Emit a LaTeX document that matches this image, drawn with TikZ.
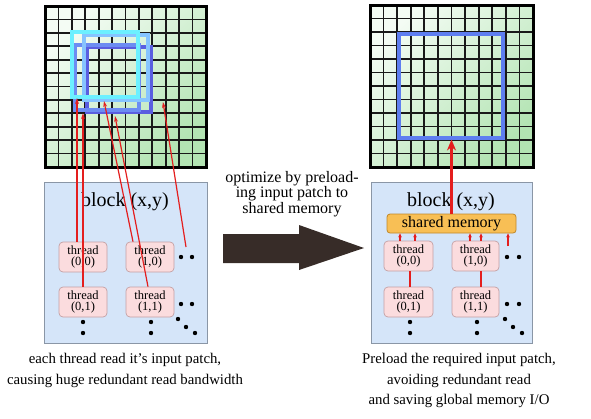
\documentclass[tikz,border=0pt]{standalone}
\usepackage{fontspec}
\setmainfont{Liberation Serif}
\usetikzlibrary{arrows.meta}
\definecolor{gridlight}{HTML}{F4FCF4}
\definecolor{griddark}{HTML}{B3E4B3}
\definecolor{blockfill}{HTML}{D5E5F9}
\definecolor{blockdraw}{HTML}{8A96A6}
\definecolor{threadfill}{HTML}{FBDCDE}
\definecolor{threaddraw}{HTML}{C4A0A4}
\definecolor{smfill}{HTML}{F8BF55}
\definecolor{smdraw}{HTML}{C0882A}
\definecolor{redline}{HTML}{E41E1E}
\definecolor{bigarrow}{HTML}{372C28}
\definecolor{sqA}{HTML}{6CF0FF}
\definecolor{sqB}{HTML}{86C4FF}
\definecolor{sqC}{HTML}{6C8CF2}
\definecolor{sqD}{HTML}{5A5EE0}
\definecolor{sqR}{HTML}{5E7EF0}
\begin{document}
\begin{tikzpicture}[x=1pt,y=-1pt,
  gridline/.style={draw=black!90, line width=1.7pt},
  gridframe/.style={draw=black, line width=3pt},
  blockbox/.style={draw=blockdraw, fill=blockfill, line width=0.8pt, inner sep=0pt, minimum width=163pt, minimum height=161pt},
  threadbox/.style={draw=threaddraw, fill=threadfill, rounded corners=4pt, line width=0.7pt, inner sep=0pt, minimum width=48pt, minimum height=30pt, align=center, font=\fontsize{12.5}{11.8}\selectfont},
  smbox/.style={draw=smdraw, fill=smfill, rounded corners=3pt, line width=0.8pt, inner sep=0pt, minimum width=129pt, minimum height=19pt, font=\fontsize{16}{18}\selectfont},
  blocklabel/.style={font=\fontsize{20}{22}\selectfont, inner sep=0pt},
  caption/.style={align=center, font=\fontsize{14.8}{20.5}\selectfont, inner sep=0pt},
  dotnode/.style={circle, fill=black, inner sep=0pt, minimum size=4.4pt},
  readarrow/.style={draw=redline, line width=1.2pt, -{Stealth[length=6pt,width=3.8pt]}},
  smallarrow/.style={draw=redline, line width=1.2pt, -{Stealth[length=4pt,width=3.6pt]}},
  linkline/.style={draw=redline, line width=1.2pt},
  bigred/.style={draw=redline, line width=2.8pt, -{Stealth[length=11pt,width=9pt]}},
  patch/.style={line width=3.2pt}
]
\useasboundingbox (0,0) rectangle (591,418);

% ---------- left grid ----------
\shade[top color=gridlight, bottom color=griddark, shading angle=45] (45,6) rectangle (206,167);
\foreach \i in {1,...,11} {
  \draw[gridline] ({45+\i*161/12},6) -- ({45+\i*161/12},167);
  \draw[gridline] (45,{6+\i*161/12}) -- (206,{6+\i*161/12});
}
\draw[gridframe] (45,6) rectangle (206,167);
% patches
\draw[patch, draw=sqD] (87,47) rectangle (151,112);
\draw[patch, draw=sqC] (75,45) rectangle (139,110);
\draw[patch, draw=sqB] (84,35) rectangle (148,100);
\draw[patch, draw=sqA] (72,32) rectangle (138,97);

% ---------- right grid ----------
\shade[top color=gridlight, bottom color=griddark, shading angle=45] (370,5) rectangle (533,167);
\foreach \i in {1,...,11} {
  \draw[gridline] ({370+\i*163/12},5) -- ({370+\i*163/12},167);
  \draw[gridline] (370,{5+\i*162/12}) -- (533,{5+\i*162/12});
}
\draw[gridframe] (370,5) rectangle (533,167);
\draw[patch, draw=sqR] (399,34) rectangle (503,138);

% ---------- left block ----------
\node[blockbox] (LB) at (125.5,262.5) {};
\node[blocklabel] (LBl) at (125,202) {block (x,y)};
\node[threadbox] (L00) at (83,257) {thread\\(0,0)};
\node[threadbox] (L10) at (150,257) {thread\\(1,0)};
\node[threadbox] (L01) at (83,302) {thread\\(0,1)};
\node[threadbox] (L11) at (150,302) {thread\\(1,1)};
\node[dotnode] (Ld1) at (181,257) {};
\node[dotnode] (Ld2) at (192,257) {};
\node[dotnode] (Ld3) at (181,304) {};
\node[dotnode] (Ld4) at (192,304) {};
\node[dotnode] (Ld5) at (178,319) {};
\node[dotnode] (Ld6) at (186,327) {};
\node[dotnode] (Ld7) at (195,333) {};
\node[dotnode] (Ld8) at (83,322) {};
\node[dotnode] (Ld9) at (83,333) {};
\node[dotnode] (Ld10) at (151,322) {};
\node[dotnode] (Ld11) at (151,333) {};
\coordinate (Ldsrc) at (186,247);

% read targets
\coordinate (pA) at (77,98);
\coordinate (pB) at (83,113);
\coordinate (pC) at (104,101);
\coordinate (pD) at (115,116);
\coordinate (pE) at (163,102);
\draw[readarrow] ([xshift=-6pt]L00.north) -- (pA);
\draw[readarrow] (L01.north) -- (pB);
\draw[readarrow] ([xshift=-17pt]L10.north) -- (pC);
\draw[readarrow] ([xshift=-2pt]L11.north) -- (pD);
\draw[readarrow] (Ldsrc) -- (pE);

% ---------- right block ----------
\node[blockbox, minimum width=161pt] (RB) at (451.5,262.5) {};
\node[blocklabel] (RBl) at (451,202) {block (x,y)};
\node[smbox] (SM) at (451.5,223.5) {shared memory};
\node[threadbox, minimum width=49pt] (R00) at (408.5,256) {thread\\(0,0)};
\node[threadbox, minimum width=47pt] (R10) at (475.5,256) {thread\\(1,0)};
\node[threadbox, minimum width=49pt] (R01) at (408.5,302) {thread\\(0,1)};
\node[threadbox, minimum width=47pt] (R11) at (475.5,302) {thread\\(1,1)};
\node[dotnode] (Rd1) at (507,257) {};
\node[dotnode] (Rd2) at (519,257) {};
\node[dotnode] (Rd3) at (507,304) {};
\node[dotnode] (Rd4) at (519,304) {};
\node[dotnode] (Rd5) at (505,319) {};
\node[dotnode] (Rd6) at (513,327) {};
\node[dotnode] (Rd7) at (522,333) {};
\node[dotnode] (Rd8) at (410,322) {};
\node[dotnode] (Rd9) at (410,333) {};
\node[dotnode] (Rd10) at (477,322) {};
\node[dotnode] (Rd11) at (477,333) {};
\coordinate (Rdsrc) at (508,246);

\draw[smallarrow] ([xshift=-8.5pt]R00.north) -- ([xshift=-8.5pt]R00.north |- SM.south);
\draw[smallarrow] ([xshift=6.5pt]R00.north) -- ([xshift=6.5pt]R00.north |- SM.south);
\draw[smallarrow] ([xshift=-5.5pt]R10.north) -- ([xshift=-5.5pt]R10.north |- SM.south);
\draw[smallarrow] ([xshift=5.5pt]R10.north) -- ([xshift=5.5pt]R10.north |- SM.south);
\draw[smallarrow] (Rdsrc) -- (Rdsrc |- SM.south);
\draw[linkline] ([xshift=1.5pt]R00.south) -- ([xshift=1.5pt]R01.north);
\draw[linkline] ([xshift=5.5pt]R10.south) -- ([xshift=5.5pt]R11.north);

\coordinate (patchBottom) at (451.5,139.5);
\draw[bigred] (SM.north) -- (patchBottom);

% ---------- middle arrow ----------
\fill[bigarrow] (223,234) -- (299,234) -- (299,225) -- (364,248) -- (299,270) -- (299,263) -- (223,263) -- cycle;
\node[caption, font=\fontsize{16}{15.8}\selectfont] (mid) at (292,194) {optimize by preload-\\ing input patch to\\shared memory};

% ---------- captions ----------
\node[caption, anchor=north] (capL) at (125,353.5) {each thread read it’s input patch,\\causing huge redundant read bandwidth};
\node[caption, anchor=north] (capR) at (459,353.5) {Preload the required input patch,\\avoiding redundant read\\and saving global memory I/O};
\end{tikzpicture}
\end{document}
